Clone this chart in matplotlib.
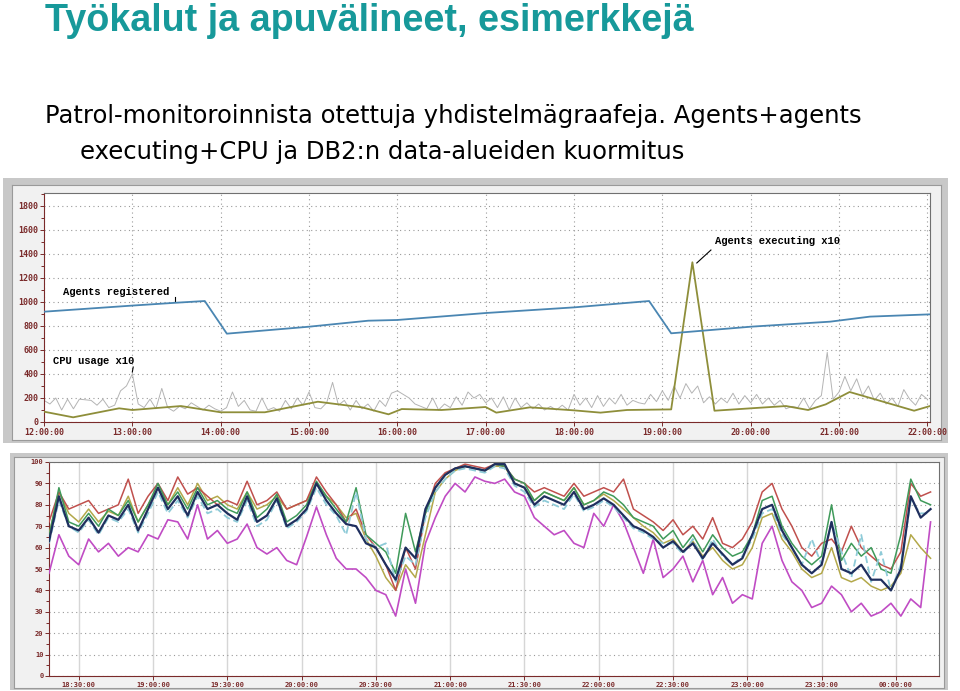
import numpy as np
import matplotlib
matplotlib.use("Agg")
import matplotlib.pyplot as plt
from matplotlib.ticker import MultipleLocator, FuncFormatter

W, H = 960, 691

title = "Työkalut ja apuvälineet, esimerkkejä"
subtitle_1 = "Patrol-monitoroinnista otettuja yhdistelmägraafeja. Agents+agents"
subtitle_2 = "executing+CPU ja DB2:n data-alueiden kuormitus"

# --- top chart (hours of day) ---
reg_time = [12.0, 13.0, 13.5, 13.82, 14.07, 15.0, 15.67, 16.0, 17.0, 18.0,
            18.85, 19.1, 20.0, 20.9, 21.35, 22.03]
reg_value = [919, 970, 994, 1008, 736, 794, 844, 850, 908, 955,
             1008, 739, 794, 836, 878, 897]

exec_time = [12.0, 12.33, 12.85, 13.0, 13.55, 14.0, 14.5, 15.1, 15.6, 15.9,
             16.05, 16.5, 17.0, 17.12, 17.5, 18.0, 18.3, 18.6, 19.1, 19.34,
             19.59, 20.0, 20.4, 20.65, 20.85, 21.12, 21.5, 21.85, 22.03]
exec_value = [86, 39, 114, 100, 133, 81, 81, 169, 122, 64,
              108, 100, 125, 78, 122, 97, 78, 100, 105, 1331,
              94, 114, 133, 100, 147, 250, 169, 94, 133]

# CPU usage x10, one sample every 4 minutes from 12:00 to 22:00
cpu_start, cpu_step_min = 12.0, 4
cpu_value = [
    180, 150, 200, 100, 190, 110, 190, 185, 180, 140, 190, 120, 140, 260, 300,
    400, 150, 120, 190, 110, 280, 120, 90, 130, 110, 160, 130, 100, 140, 110,
    90, 120, 250, 130, 180, 100, 90, 200, 100, 120, 90, 180, 110, 200, 140,
    250, 120, 110, 160, 330, 140, 180, 100, 180, 110, 150, 90, 180, 130, 240,
    260, 230, 200, 150, 130, 110, 200, 100, 150, 120, 210, 140, 250, 200, 230,
    160, 200, 120, 210, 100, 200, 120, 160, 110, 150, 100, 130, 100, 140, 100,
    230, 140, 200, 120, 220, 130, 200, 150, 230, 140, 180, 160, 150, 230, 170,
    260, 180, 300, 200, 320, 240, 300, 160, 210, 150, 200, 160, 240, 150, 220,
    160, 230, 150, 200, 140, 180, 110, 130, 120, 200, 110, 180, 220, 580, 190,
    250, 380, 260, 360, 220, 300, 180, 240, 150, 200, 130, 270, 190, 140, 230,
    190]

# --- bottom chart: DB2 data areas, % used, one sample every 4 min from 18:18 ---
db_start, db_step_min = 18.3, 4
db_navy = [63, 84, 70, 68, 74, 67, 75, 73, 80, 68, 78, 88, 78, 84, 75, 86, 78, 80, 76, 73,
           84, 72, 75, 83, 70, 73, 78, 90, 82, 76, 71, 70, 62, 60, 52, 45, 60, 55, 78, 88,
           94, 97, 98, 97,
           96, 99, 99, 90, 88, 80, 84, 82, 80, 86, 78, 80, 83, 80, 75, 70, 68, 65, 60, 63,
           58, 62, 55, 62, 57, 52, 55, 66, 78, 80, 68, 60, 52, 48, 52, 72, 50, 48, 52, 45,
           45, 40, 50, 84, 74, 78]
db_red = [72, 86, 78, 80, 82, 76, 78, 80, 92, 76, 84, 90, 82, 93, 85, 88, 84, 80, 82, 80,
          91, 80, 82, 86, 78, 80, 82, 93, 86, 80, 72, 78, 66, 60, 52, 40, 60, 50, 76, 90,
          95, 97, 99, 98,
          97, 99, 98, 92, 90, 86, 88, 86, 84, 90, 84, 86, 88, 86, 92, 78, 75, 72, 68, 73,
          66, 70, 64, 74, 62, 60, 64, 72, 86, 90, 78, 70, 60, 56, 62, 64, 58, 70, 60, 56,
          52, 50, 58, 90, 84, 86]
db_green = [65, 88, 72, 70, 76, 70, 78, 75, 82, 72, 80, 90, 80, 86, 78, 88, 80, 82, 78, 76,
            86, 74, 78, 85, 72, 75, 80, 91, 84, 78, 72, 88, 66, 62, 58, 48, 76, 58, 76, 88,
            94, 97, 98, 97,
            96, 99, 98, 92, 90, 82, 86, 84, 82, 88, 80, 82, 86, 84, 80, 74, 72, 70, 64, 68,
            60, 66, 58, 66, 60, 56, 58, 66, 82, 84, 70, 62, 56, 52, 56, 80, 54, 62, 56, 60,
            50, 48, 66, 92, 82, 80]
db_cyan = [62, 82, 70, 67, 73, 66, 74, 72, 78, 67, 76, 86, 76, 82, 74, 84, 76, 78, 74, 72,
           82, 70, 73, 82, 69, 72, 77, 88, 80, 75, 66, 86, 64, 60, 62, 44, 56, 52, 74, 86,
           92, 96, 97, 96,
           95, 98, 97, 89, 86, 79, 82, 80, 78, 85, 77, 79, 82, 79, 74, 69, 67, 64, 62, 62,
           57, 64, 54, 64, 56, 52, 56, 64, 76, 78, 66, 60, 52, 64, 52, 72, 58, 46, 66, 44,
           58, 40, 52, 82, 76, 76]
db_olive = [66, 86, 76, 72, 78, 72, 77, 75, 84, 72, 80, 88, 80, 88, 80, 90, 82, 84, 80, 78,
            86, 78, 80, 84, 78, 80, 82, 90, 84, 80, 74, 76, 64, 56, 46, 40, 52, 46, 66, 86,
            92, 96, 98, 97,
            96, 98, 98, 90, 88, 82, 86, 84, 82, 88, 80, 82, 85, 82, 78, 74, 70, 67, 62, 64,
            58, 63, 56, 60, 54, 50, 52, 60, 74, 76, 64, 58, 50, 46, 48, 60, 46, 44, 46, 42,
            40, 42, 48, 66, 60, 55]
db_magenta = [48, 66, 56, 52, 64, 58, 62, 56, 60, 58, 66, 64, 73, 72, 64, 80, 64, 68, 62, 64,
              71, 60, 57, 60, 54, 52, 65, 79, 66, 55, 50, 50, 46, 40, 38, 28, 50, 34, 62, 74,
              84, 90, 86, 93,
              91, 90, 92, 86, 84, 74, 70, 66, 68, 62, 60, 76, 70, 80, 72, 60, 48, 64, 46, 50,
              56, 44, 54, 38, 46, 34, 38, 36, 62, 70, 54, 44, 40, 32, 34, 42, 38, 30, 34, 28,
              30, 34, 28, 36, 32, 72]

MAROON = "#7a2a2a"
TICK_FONT = dict(family="DejaVu Sans Mono", weight="bold")


def px_axes(fig, x0, y0, x1, y1, **kw):
    return fig.add_axes([x0 / W, 1 - y1 / H, (x1 - x0) / W, (y1 - y0) / H], **kw)


def blank(ax, face, edge=None):
    ax.set_facecolor(face)
    ax.set_xticks([])
    ax.set_yticks([])
    for s in ax.spines.values():
        if edge is None:
            s.set_visible(False)
        else:
            s.set_color(edge)
            s.set_linewidth(0.8)


def hms(v, pos=None):
    total = int(round(v * 60))
    return f"{(total // 60) % 24:02d}:{total % 60:02d}:00"


def style_plot(ax, size):
    ax.set_facecolor("white")
    ax.spines["left"].set_color(MAROON)
    ax.spines["bottom"].set_color(MAROON)
    ax.spines["top"].set_color("#707070")
    ax.spines["right"].set_color("#707070")
    for s in ax.spines.values():
        s.set_linewidth(0.8)
    ax.tick_params(which="both", colors=MAROON, labelsize=size, width=0.7)
    ax.tick_params(which="major", length=3, pad=1)
    ax.tick_params(which="minor", length=2)
    for lab in ax.get_xticklabels() + ax.get_yticklabels():
        lab.set_fontfamily(TICK_FONT["family"])
        lab.set_fontweight(TICK_FONT["weight"])
    ax.xaxis.set_major_formatter(FuncFormatter(hms))


fig = plt.figure(figsize=(W / 100, H / 100), dpi=100)
fig.patch.set_facecolor("white")

fig.text(45 / W, 1 - 31 / H, title, family="Liberation Sans", weight="bold",
         size=27.2, color="#17999a", va="baseline", ha="left")
fig.text(45 / W, 1 - 123 / H, subtitle_1, family="DejaVu Sans", size=17.5,
         color="black", va="baseline", ha="left")
fig.text(80 / W, 1 - 159 / H, subtitle_2, family="DejaVu Sans", size=17.5,
         color="black", va="baseline", ha="left")

# ---------- top chart ----------
blank(px_axes(fig, 3, 178, 948, 443), "#c8c8c8")
blank(px_axes(fig, 12, 185, 941, 440), "#f1f1f1", "#9a9a9a")
ax1 = px_axes(fig, 44, 193, 930, 422)

cpu_time = cpu_start + np.arange(len(cpu_value)) * cpu_step_min / 60
ax1.plot(cpu_time, cpu_value, color="#b4b4b4", lw=0.7, zorder=2)
ax1.plot(exec_time, exec_value, color="#8e8e3a", lw=1.3, zorder=3)
ax1.plot(reg_time, reg_value, color="#4a86b2", lw=1.3, zorder=4)

ax1.set_xlim(12.0, 22.03)
ax1.set_ylim(0, 1908)
ax1.xaxis.set_major_locator(MultipleLocator(1))
ax1.yaxis.set_major_locator(MultipleLocator(200))
ax1.yaxis.set_minor_locator(MultipleLocator(100))
ax1.grid(True, which="major", linestyle=(0, (1, 3)), color="#9a9a9a", lw=0.8)
style_plot(ax1, 6)

note = dict(family="Liberation Mono", weight="bold", size=7.6, color="black", va="center")
ax1.text(12.21, 1085, "Agents registered", **note)
ax1.plot([13.48, 13.48], [1008, 1042], color="black", lw=0.8)
ax1.text(12.1, 508, "CPU usage x10", **note)
ax1.plot([13.0, 13.01], [417, 458], color="black", lw=0.8)
ax1.text(19.6, 1508, "Agents executing x10", **note)
ax1.plot([19.39, 19.55], [1325, 1433], color="black", lw=0.8)

# ---------- bottom chart ----------
blank(px_axes(fig, 10, 453, 948, 690), "#c8c8c8")
blank(px_axes(fig, 14, 457, 944, 688), "#f1f1f1", "#9a9a9a")
ax2 = px_axes(fig, 49, 462, 939, 676)

db_time = db_start + np.arange(len(db_navy)) * db_step_min / 60
ax2.plot(db_time, db_magenta, color="#c04cc4", lw=1.2, zorder=3)
ax2.plot(db_time, db_olive, color="#b3a84a", lw=1.1, zorder=3)
ax2.plot(db_time, db_red, color="#c0504d", lw=1.1, zorder=3)
ax2.plot(db_time, db_green, color="#3f9a5a", lw=1.1, zorder=3)
ax2.plot(db_time, db_cyan, color="#8fcbd8", lw=1.3, ls=(0, (4, 2)), zorder=4)
ax2.plot(db_time, db_navy, color="#1f2f5e", lw=1.6, zorder=5)

ax2.set_xlim(18.3, 24.29)
ax2.set_ylim(0, 100)
ax2.xaxis.set_major_locator(MultipleLocator(0.5))
ax2.yaxis.set_major_locator(MultipleLocator(10))
ax2.yaxis.set_minor_locator(MultipleLocator(5))
ax2.grid(True, axis="y", which="major", linestyle=(0, (1, 3)), color="#9a9a9a", lw=0.8)
ax2.grid(True, axis="x", which="major", linestyle="-", color="#d6d6d6", lw=1.0)
style_plot(ax2, 5)

fig.savefig("out.png", dpi=100)
